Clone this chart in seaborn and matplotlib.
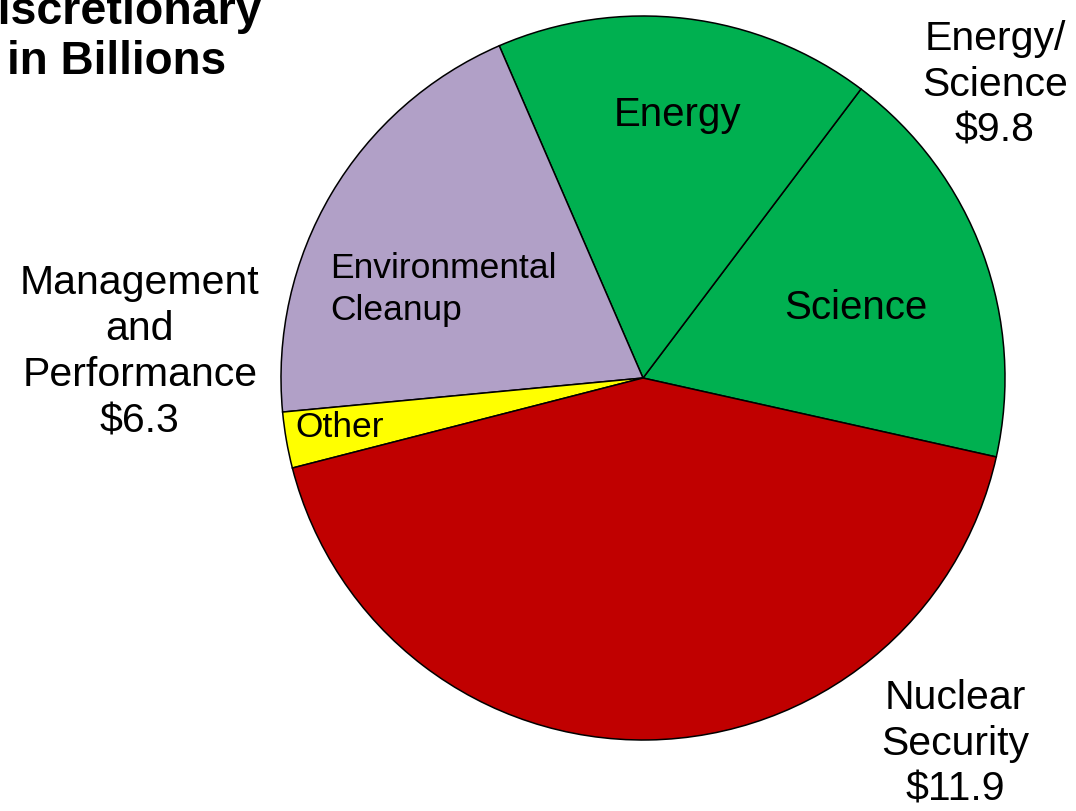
import matplotlib.pyplot as plt
import seaborn as sns

# Slice data (billions), in drawing order counterclockwise
slice_names = ["Science", "Energy", "Environmental\nCleanup", "Other", "Nuclear Security"]
slice_values = [5.1, 4.7, 5.6, 0.7, 11.9]
slice_colors = ["#00B050", "#00B050", "#B1A0C7", "#FFFF00", "#C00000"]

# Group labels outside the pie
group_names = ["Energy/\nScience", "Management\nand\nPerformance", "Nuclear\nSecurity"]
group_totals = [9.8, 6.3, 11.9]

sns.set_theme(style="white")
plt.rcParams['font.family'] = ['Liberation Sans', 'DejaVu Sans']
plt.rcParams['text.color'] = 'black'

fig = plt.figure(figsize=(10.76, 8.11), dpi=100)
ax = fig.add_axes([281 / 1076, 71 / 811, 724 / 1076, 724 / 811])

wedges, _ = ax.pie(slice_values, colors=slice_colors, startangle=-12.6,
                   counterclock=True, radius=1.0,
                   wedgeprops=dict(edgecolor="black", linewidth=1.1))
ax.set_xlim(-1, 1)
ax.set_ylim(-1, 1)
ax.set_aspect("equal")
ax.axis("off")

# Inside labels
ax.text(0.094, 0.727, slice_names[1], ha="center", va="center", fontsize=29)
ax.text(0.588, 0.193, slice_names[0], ha="center", va="center", fontsize=29)
ax.text(-0.865, 0.245, slice_names[2], ha="left", va="center", fontsize=25.5,
        linespacing=1.35)
ax.text(-0.961, -0.138, slice_names[3], ha="left", va="center", fontsize=25.5)

# Outside group labels
group_pos = [(0.972, 0.81), (-1.39, 0.072), (0.862, -1.01)]
for name, total, (x, y) in zip(group_names, group_totals, group_pos):
    ax.text(x, y, f"{name}\n${total}", ha="center", va="center", fontsize=29.5,
            linespacing=1.27, clip_on=False)

# Title, running off the left edge as in the original
fig.text(263 / 1076, 1 - 12 / 811, "Discretionary", ha="right", va="center",
         fontsize=33.5, fontweight="bold")
fig.text(226 / 1076, 1 - 62 / 811, "in Billions", ha="right", va="center",
         fontsize=33, fontweight="bold")

fig.savefig("out.png", dpi=100)
